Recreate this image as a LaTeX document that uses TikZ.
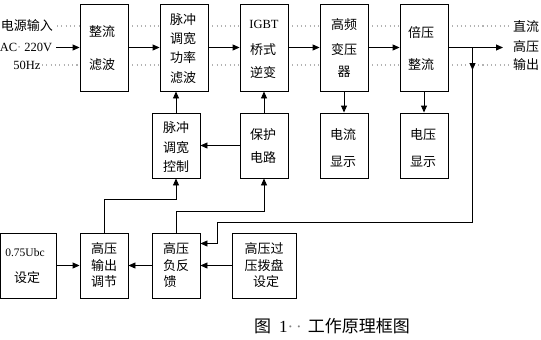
\documentclass[tikz,border=0pt]{standalone}
\usepackage{fontspec}
\setmainfont{Liberation Serif}
\newfontfamily\cjk{Noto Sans CJK SC}
\usetikzlibrary{arrows.meta}
\begin{document}
\begin{tikzpicture}[x=1pt,y=-1pt,
 box/.style={draw, line width=0.9pt, inner sep=0, minimum width=48pt, minimum height=#1},
 t/.style={font=\cjk\fontsize{13}{13}\selectfont, inner sep=0},
 lat/.style={font=\fontsize{12.5}{12.5}\selectfont, inner sep=0},
 arr/.style={line width=0.9pt, -{Triangle[length=7pt,width=6pt]}},
 ln/.style={line width=0.9pt},
 dots/.style={gray!60, line width=1.1pt, dash pattern=on 1.1pt off 3.2pt}]
\useasboundingbox (0,0) rectangle (541,340);
\fill[white] (0,0) rectangle (541,340);
% dotted rulers
\foreach \y in {26,65}{
  \draw[dots] (128,\y) -- (160,\y);
  \draw[dots] (208,\y) -- (240,\y);
  \draw[dots] (288,\y) -- (320,\y);
  \draw[dots] (368,\y) -- (400,\y);
  \draw[dots] (448,\y) -- (510,\y);
}
\draw[dots] (57,26) -- (80,26);
\draw[dots] (42,65) -- (80,65);
% top row
\node[box=87pt] (zl) at (104,47.5) {};
\node[box=87pt] (mc) at (184,47.5) {};
\node[box=87pt] (igbt) at (264,47.5) {};
\node[box=87pt] (gp) at (344,47.5) {};
\node[box=87pt] (bz) at (424,47.5) {};
% middle row
\node[box=65pt] (kz) at (176,145.5) {};
\node[box=65pt] (bh) at (264,145.5) {};
\node[box=65pt] (dl) at (344,145.5) {};
\node[box=65pt] (dy) at (424,145.5) {};
% bottom row
\node[box=65pt, minimum width=56pt] (sd) at (28.6,265.5) {};
\node[box=65pt] (tj) at (104,265.5) {};
\node[box=65pt] (fk) at (176,265.5) {};
\node[box=65pt, minimum width=64.5pt] (gy) at (264.5,265.5) {};
% texts
\node[t] (i1) at (27,26) {电源输入};
\node[lat] (i2) at (26,47.5) {AC{\color{gray}·} 220V};
\node[lat] (i3) at (27,65) {50Hz};
\node[t] (o1) at (526,27) {直流};
\node[t] (o2) at (526,47) {高压};
\node[t] (o3) at (526,65) {输出};
\node[t] (zl1) at (102,32) {整流};
\node[t] (zl2) at (102,65) {滤波};
\node[t] (mc1) at (183,20) {脉冲};
\node[t] (mc2) at (183,39) {调宽};
\node[t] (mc3) at (183,58) {功率};
\node[t] (mc4) at (183,78) {滤波};
\node[lat] (ig1) at (264,24) {IGBT};
\node[t] (ig2) at (263,50) {桥式};
\node[t] (ig3) at (263,73) {逆变};
\node[t] (gp1) at (344,25) {高频};
\node[t] (gp2) at (344,50) {变压};
\node[t] (gp3) at (344,72) {器};
\node[t] (bz1) at (421,33) {倍压};
\node[t] (bz2) at (421,65) {整流};
\node[t] (kz1) at (176,128) {脉冲};
\node[t] (kz2) at (176,148) {调宽};
\node[t] (kz3) at (176,167) {控制};
\node[t] (bh1) at (263,135) {保护};
\node[t] (bh2) at (263,158) {电路};
\node[t] (dl1) at (343,135) {电流};
\node[t] (dl2) at (343,162) {显示};
\node[t] (dy1) at (423,135) {电压};
\node[t] (dy2) at (423,162) {显示};
\node[lat, font=\fontsize{11.5}{11.5}\selectfont] (sd1) at (25,253) {0.75Ubc};
\node[t] (sd2) at (27,278) {设定};
\node[t] (tj1) at (104,249) {高压};
\node[t] (tj2) at (104,266) {输出};
\node[t] (tj3) at (104,282) {调节};
\node[t] (fk1) at (176,249) {高压};
\node[t] (fk2) at (176,266) {负反};
\node[t] (fk3) at (170,282) {馈};
\node[t] (gy1) at (264,249) {高压过};
\node[t] (gy2) at (264,266) {压拨盘};
\node[t] (gy3) at (266,282) {设定};
\node[t, font=\cjk\fontsize{17}{17}\selectfont] (cap) at (332,326) {图\hspace{8pt}{\rmfamily\fontsize{17}{17}\selectfont 1{\color{gray}·\hspace{3pt}·}}\hspace{6pt}工作原理框图};
% connectors
\coordinate (in) at (56,47.5);
\coordinate (out) at (503,47.5);
\coordinate (j) at (472.5,47.5);
\draw[arr] (in) -- (zl);
\draw[arr] (zl) -- (mc);
\draw[arr] (mc) -- (igbt);
\draw[arr] (igbt) -- (gp);
\draw[arr] (gp) -- (bz);
\draw[arr] (bz) -- (out);
\draw[arr] (j) -- (472.5,70);
\draw[arr] (j) -- (472.5,222) -| (217,243.5) -- (fk.east |- 0,243.5);
\draw[arr] (kz.north) -- (kz.north |- mc.south);
\draw[arr] (bh.north) -- (igbt.south);
\draw[arr] (bh) -- (kz);
\draw[arr] (gp.south) -- (dl.north);
\draw[arr] (bz.south) -- (dy.north);
\draw[arr] (sd) -- (tj);
\draw[arr] (fk) -- (tj);
\draw[arr] (gy) -- (fk);
\draw[arr] (tj.north) -- ++(0,-33) -| (kz.south);
\draw[arr] (fk.north) -- ++(0,-21.5) -| (bh.south);
\end{tikzpicture}
\end{document}
